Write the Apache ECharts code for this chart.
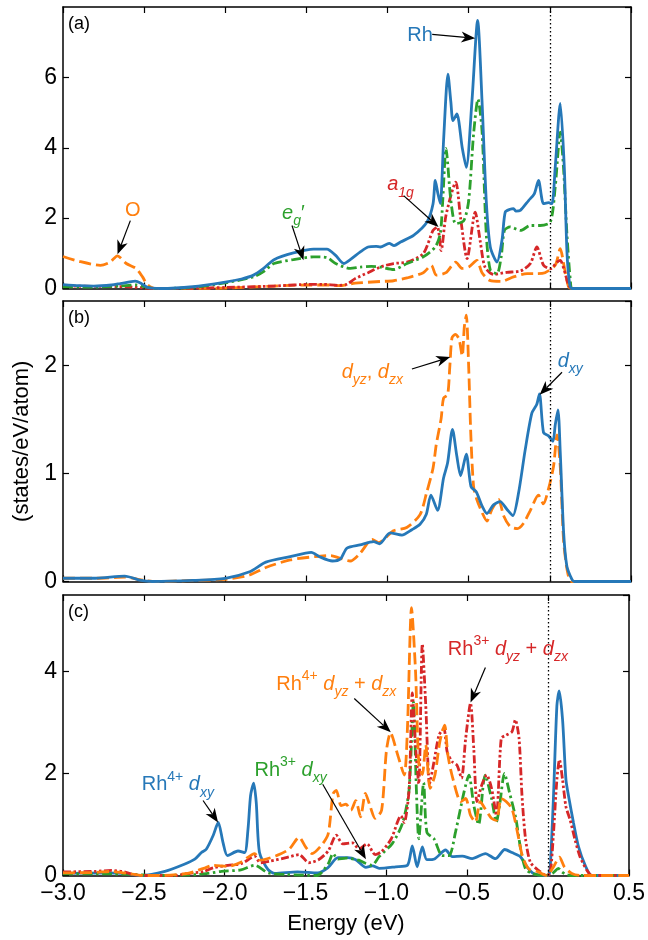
<!DOCTYPE html>
<html>
<head>
<meta charset="utf-8">
<script src="https://cdn.jsdelivr.net/npm/echarts@6.0.0/dist/echarts.min.js"></script>
<style>
html, body { margin: 0; padding: 0; background: #fff; }
#chart { width: 648px; height: 940px; }
</style>
</head>
<body>
<div id="chart"></div>
<script>
// energy ranges / ticks
var eMin = -3.0, eMax = 0.5, eStep = 0.5;
var yMaxA = 8, yStepA = 2;
var yMaxB = 2.6, yStepB = 1;
var yMaxC = 5.5, yStepC = 2;

// (a) total Rh, eg', a1g, O  -- [energy, DOS]
var aRh = [[-3.0,0.11],[-2.9,0.08],[-2.81,0.07],[-2.7,0.1],[-2.647,0.14],[-2.555,0.21],[-2.52,0.15],[-2.48,0.03],[-2.4,0.0],[-2.2,0.05],[-2.0,0.18],[-1.9,0.27],[-1.826,0.38],[-1.764,0.57],[-1.7,0.82],[-1.58,1.01],[-1.456,1.12],[-1.374,1.12],[-1.32,0.94],[-1.27,0.71],[-1.23,0.82],[-1.168,1.04],[-1.12,1.18],[-1.07,1.2],[-1.045,1.18],[-0.99,1.28],[-0.96,1.22],[-0.92,1.32],[-0.84,1.51],[-0.757,1.89],[-0.72,2.4],[-0.706,3.07],[-0.69,2.7],[-0.675,2.41],[-0.655,4.2],[-0.628,6.09],[-0.61,5.3],[-0.597,4.77],[-0.573,4.96],[-0.54,4.0],[-0.515,3.44],[-0.48,5.33],[-0.445,7.62],[-0.418,5.33],[-0.392,2.5],[-0.367,1.18],[-0.326,0.75],[-0.295,1.37],[-0.275,2.17],[-0.245,2.25],[-0.224,2.27],[-0.21,2.2],[-0.182,2.22],[-0.131,2.5],[-0.096,2.69],[-0.07,3.07],[-0.039,2.41],[-0.008,2.44],[0.013,2.41],[0.033,3.44],[0.064,5.26],[0.089,3.44],[0.105,1.08],[0.121,0.15],[0.136,0.0],[0.5,0.0]];
var aEg = [[-3.0,0.05],[-2.8,0.04],[-2.65,0.07],[-2.55,0.1],[-2.5,0.05],[-2.42,0.0],[-2.2,0.03],[-1.99,0.17],[-1.826,0.33],[-1.764,0.48],[-1.7,0.71],[-1.58,0.82],[-1.456,0.9],[-1.374,0.88],[-1.32,0.71],[-1.23,0.57],[-1.168,0.61],[-1.1,0.63],[-1.045,0.61],[-0.963,0.54],[-0.88,0.71],[-0.78,0.9],[-0.706,1.18],[-0.675,1.56],[-0.66,2.5],[-0.64,3.98],[-0.61,2.5],[-0.58,1.84],[-0.53,1.93],[-0.5,2.5],[-0.47,4.39],[-0.443,5.38],[-0.418,4.48],[-0.392,1.56],[-0.367,0.52],[-0.326,0.42],[-0.3,0.9],[-0.28,1.65],[-0.245,1.75],[-0.18,1.65],[-0.12,1.79],[-0.06,1.79],[0.003,1.89],[0.033,2.88],[0.064,4.44],[0.084,3.44],[0.105,1.56],[0.126,0.25],[0.14,0.0],[0.5,0.0]];
var aA1g = [[-3.0,0.07],[-2.8,0.06],[-2.6,0.05],[-2.45,0.0],[-2.2,0.01],[-1.99,0.03],[-1.7,0.07],[-1.54,0.11],[-1.4,0.12],[-1.3,0.09],[-1.25,0.12],[-1.2,0.28],[-1.12,0.45],[-1.045,0.61],[-0.963,0.71],[-0.88,0.75],[-0.78,0.99],[-0.72,1.65],[-0.693,1.75],[-0.67,1.08],[-0.64,2.08],[-0.58,3.02],[-0.55,2.0],[-0.51,0.85],[-0.46,2.17],[-0.43,1.37],[-0.4,0.61],[-0.347,0.4],[-0.265,0.46],[-0.18,0.5],[-0.12,0.71],[-0.08,1.18],[-0.039,0.66],[0.003,0.56],[0.045,0.75],[0.064,0.8],[0.09,0.5],[0.115,0.1],[0.136,0.0],[0.5,0.0]];
var aO = [[-3.0,0.91],[-2.9,0.77],[-2.77,0.66],[-2.71,0.75],[-2.665,0.93],[-2.61,0.71],[-2.55,0.57],[-2.51,0.33],[-2.48,0.11],[-2.43,0.0],[-2.0,0.01],[-1.85,0.04],[-1.7,0.07],[-1.5,0.1],[-1.35,0.1],[-1.3,0.08],[-1.2,0.15],[-1.045,0.2],[-0.963,0.22],[-0.88,0.3],[-0.78,0.45],[-0.73,0.66],[-0.7,0.38],[-0.64,0.45],[-0.58,0.75],[-0.54,0.57],[-0.5,0.61],[-0.45,0.8],[-0.418,0.45],[-0.37,0.23],[-0.3,0.2],[-0.224,0.33],[-0.14,0.42],[-0.08,0.42],[-0.03,0.45],[0.033,0.66],[0.064,1.13],[0.089,0.6],[0.115,0.05],[0.136,0.0],[0.5,0.0]];

// (b) dxy, dyz/dzx
var bXy = [[-3.0,0.03],[-2.8,0.03],[-2.62,0.05],[-2.52,0.01],[-2.45,0.0],[-2.2,0.01],[-2.0,0.03],[-1.85,0.09],[-1.75,0.18],[-1.6,0.23],[-1.47,0.27],[-1.42,0.23],[-1.34,0.19],[-1.29,0.21],[-1.25,0.31],[-1.17,0.34],[-1.086,0.37],[-1.05,0.35],[-0.984,0.45],[-0.912,0.43],[-0.85,0.48],[-0.8,0.53],[-0.762,0.62],[-0.733,0.8],[-0.692,0.66],[-0.655,0.96],[-0.63,1.1],[-0.6,1.41],[-0.573,1.16],[-0.55,0.98],[-0.515,1.18],[-0.486,0.88],[-0.453,0.83],[-0.418,0.7],[-0.388,0.63],[-0.347,0.71],[-0.306,0.74],[-0.265,0.67],[-0.228,0.61],[-0.193,0.82],[-0.152,1.22],[-0.111,1.56],[-0.081,1.64],[-0.064,1.74],[-0.039,1.38],[-0.008,1.35],[0.019,1.3],[0.033,1.45],[0.05,1.59],[0.064,1.2],[0.085,0.45],[0.105,0.14],[0.136,0.02],[0.15,0.0],[0.5,0.0]];
var bYz = [[-3.0,0.03],[-2.8,0.03],[-2.62,0.04],[-2.5,0.01],[-2.45,0.0],[-2.2,0.01],[-2.0,0.02],[-1.85,0.06],[-1.75,0.13],[-1.6,0.2],[-1.45,0.23],[-1.35,0.24],[-1.3,0.22],[-1.23,0.19],[-1.17,0.26],[-1.095,0.39],[-1.055,0.36],[-0.964,0.47],[-0.882,0.5],[-0.8,0.62],[-0.76,0.82],[-0.72,1.05],[-0.7,1.27],[-0.67,1.51],[-0.655,1.7],[-0.63,1.73],[-0.617,1.98],[-0.603,2.26],[-0.583,2.29],[-0.56,2.25],[-0.54,2.09],[-0.527,2.36],[-0.515,2.47],[-0.5,1.98],[-0.487,1.36],[-0.47,0.88],[-0.45,0.76],[-0.418,0.64],[-0.388,0.56],[-0.357,0.67],[-0.316,0.76],[-0.285,0.61],[-0.245,0.51],[-0.2,0.49],[-0.162,0.54],[-0.12,0.66],[-0.07,0.8],[-0.04,0.72],[-0.008,0.86],[0.023,1.07],[0.044,1.36],[0.064,1.07],[0.085,0.37],[0.11,0.08],[0.136,0.0],[0.5,0.0]];

// (c) Rh4+ dxy, Rh3+ dxy, Rh4+ dyz+dzx, Rh3+ dyz+dzx
var c4Xy = [[-3.0,0.04],[-2.73,0.05],[-2.6,0.03],[-2.51,0.0],[-2.37,0.08],[-2.25,0.22],[-2.185,0.32],[-2.144,0.45],[-2.113,0.52],[-2.072,0.78],[-2.04,1.04],[-2.01,0.64],[-1.983,0.39],[-1.918,0.48],[-1.877,0.45],[-1.856,0.91],[-1.84,1.57],[-1.821,1.81],[-1.805,1.43],[-1.785,0.45],[-1.733,0.12],[-1.69,0.04],[-1.55,0.07],[-1.425,0.05],[-1.363,0.15],[-1.3,0.35],[-1.24,0.35],[-1.19,0.31],[-1.127,0.16],[-1.086,0.19],[-1.045,0.14],[-0.943,0.17],[-0.87,0.2],[-0.84,0.58],[-0.81,0.17],[-0.778,0.56],[-0.75,0.31],[-0.7,0.33],[-0.634,0.5],[-0.593,0.37],[-0.531,0.38],[-0.47,0.33],[-0.388,0.43],[-0.326,0.33],[-0.268,0.51],[-0.224,0.45],[-0.172,0.37],[-0.131,0.17],[-0.09,0.04],[-0.016,0.0],[0.003,0.0],[0.013,0.17],[0.033,1.55],[0.054,3.33],[0.068,3.62],[0.089,3.06],[0.11,1.88],[0.13,1.49],[0.157,1.03],[0.188,0.56],[0.229,0.2],[0.27,0.0],[0.5,0.0]];
var c3Xy = [[-3.0,0.03],[-2.7,0.03],[-2.55,0.02],[-2.45,0.0],[-2.16,0.02],[-2.02,0.08],[-1.9,0.11],[-1.815,0.2],[-1.73,0.05],[-1.62,0.02],[-1.43,0.0],[-1.36,0.23],[-1.33,0.43],[-1.3,0.32],[-1.25,0.34],[-1.17,0.3],[-1.13,0.24],[-1.09,0.2],[-1.045,0.37],[-0.963,0.63],[-0.9,1.03],[-0.86,1.68],[-0.833,3.4],[-0.815,1.7],[-0.8,0.72],[-0.77,1.82],[-0.75,0.85],[-0.706,0.72],[-0.655,0.39],[-0.613,0.39],[-0.573,0.85],[-0.52,1.64],[-0.49,1.97],[-0.46,1.38],[-0.43,1.0],[-0.39,1.97],[-0.35,1.51],[-0.32,1.05],[-0.3,1.38],[-0.27,2.0],[-0.24,1.64],[-0.2,1.12],[-0.17,0.52],[-0.14,0.13],[-0.1,0.04],[-0.02,0.0],[0.03,0.05],[0.063,0.14],[0.085,0.07],[0.11,0.02],[0.14,0.0],[0.5,0.0]];
var c4Yz = [[-3.0,0.05],[-2.8,0.06],[-2.7,0.08],[-2.6,0.04],[-2.5,0.0],[-2.4,0.0],[-2.23,0.04],[-2.13,0.14],[-2.07,0.2],[-1.98,0.18],[-1.9,0.26],[-1.815,0.43],[-1.78,0.3],[-1.68,0.39],[-1.6,0.52],[-1.54,0.75],[-1.5,0.56],[-1.46,0.43],[-1.4,0.6],[-1.36,0.82],[-1.33,1.6],[-1.31,1.67],[-1.28,1.37],[-1.25,1.4],[-1.22,1.28],[-1.19,1.47],[-1.16,1.15],[-1.13,1.61],[-1.1,1.35],[-1.07,1.12],[-1.03,1.28],[-1.0,2.45],[-0.975,2.8],[-0.93,2.36],[-0.89,1.97],[-0.87,2.9],[-0.845,5.25],[-0.82,4.0],[-0.8,2.2],[-0.778,1.98],[-0.757,2.56],[-0.73,1.71],[-0.7,1.97],[-0.67,2.62],[-0.64,2.95],[-0.62,2.36],[-0.59,1.91],[-0.54,1.45],[-0.51,1.51],[-0.48,1.18],[-0.45,1.05],[-0.42,1.45],[-0.39,1.31],[-0.35,1.12],[-0.32,1.08],[-0.29,1.51],[-0.26,1.45],[-0.224,1.31],[-0.19,0.85],[-0.16,0.39],[-0.12,0.13],[-0.06,0.07],[-0.01,0.0],[0.033,0.17],[0.07,0.36],[0.1,0.17],[0.146,0.04],[0.2,0.0],[0.5,0.0]];
var c3Yz = [[-3.0,0.07],[-2.8,0.08],[-2.7,0.1],[-2.62,0.07],[-2.57,0.02],[-2.5,0.0],[-2.3,0.0],[-2.25,0.03],[-2.13,0.08],[-2.07,0.15],[-1.98,0.2],[-1.9,0.23],[-1.835,0.35],[-1.815,0.38],[-1.78,0.25],[-1.72,0.28],[-1.62,0.35],[-1.54,0.41],[-1.48,0.25],[-1.42,0.31],[-1.36,0.48],[-1.31,0.79],[-1.27,0.62],[-1.21,0.64],[-1.17,0.52],[-1.12,0.62],[-1.07,0.41],[-1.03,0.47],[-0.97,0.72],[-0.91,1.17],[-0.89,1.04],[-0.86,1.68],[-0.84,3.58],[-0.82,2.53],[-0.8,1.8],[-0.778,4.54],[-0.757,3.35],[-0.733,1.8],[-0.706,2.23],[-0.675,2.75],[-0.645,2.88],[-0.624,2.42],[-0.593,2.23],[-0.563,2.16],[-0.536,1.91],[-0.51,2.69],[-0.48,3.38],[-0.46,2.49],[-0.44,1.45],[-0.41,1.78],[-0.38,1.97],[-0.35,1.71],[-0.32,1.18],[-0.29,2.69],[-0.26,2.75],[-0.224,2.82],[-0.203,3.05],[-0.18,2.69],[-0.162,1.58],[-0.14,0.72],[-0.11,0.26],[-0.06,0.1],[-0.008,0.0],[0.013,0.05],[0.033,0.83],[0.054,1.88],[0.07,2.27],[0.089,1.88],[0.11,1.35],[0.136,1.09],[0.167,0.69],[0.198,0.36],[0.24,0.1],[0.27,0.0],[0.5,0.0]];

var blue = '#2678b8', orange = '#ff7f0e', green = '#2ca02c', red = '#d62728';
var fam = 'Liberation Sans';

var chart = echarts.init(document.getElementById('chart'));

var grids = [
	{ left: 63, right: 17, top: 7, height: 281.5 },
	{ left: 63, right: 17, top: 301, height: 280.5 },
	{ left: 63, right: 17, top: 595, height: 280.5 }
];

var frame = { onZero: false, lineStyle: { color: '#000', width: 1.5 } };
var tick = { inside: true, length: 6, lineStyle: { color: '#000', width: 1.2 } };

function fmtE(v) {
	return (v < 0 ? '\u2212' : '') + Math.abs(v).toFixed(1);
}

var xAxes = [], yAxes = [];
var ymaxs = [yMaxA, yMaxB, yMaxC], ysteps = [yStepA, yStepB, yStepC];
for (var g = 0; g < 3; g++) {
	xAxes.push({
		type: 'value', gridIndex: g, min: eMin, max: eMax, interval: eStep, position: 'bottom',
		axisLine: frame, axisTick: tick, splitLine: { show: false },
		axisLabel: { show: g === 2, formatter: fmtE, fontSize: 23, color: '#000', fontFamily: fam, margin: 7 },
		name: g === 2 ? 'Energy (eV)' : '', nameLocation: 'middle', nameGap: 37,
		nameTextStyle: { fontSize: 22, color: '#000', fontFamily: fam }
	});
	xAxes.push({
		type: 'value', gridIndex: g, min: eMin, max: eMax, interval: eStep, position: 'top',
		axisLine: frame, axisTick: tick, splitLine: { show: false }, axisLabel: { show: false }
	});
	yAxes.push({
		type: 'value', gridIndex: g, min: 0, max: ymaxs[g], interval: ysteps[g], position: 'left',
		axisLine: frame, axisTick: tick, splitLine: { show: false },
		axisLabel: { showMaxLabel: false, fontSize: 23, color: '#000', fontFamily: fam, margin: 6 },
		name: g === 1 ? '(states/eV/atom)' : '', nameLocation: 'middle', nameGap: 28,
		nameTextStyle: { fontSize: 22, color: '#000', fontFamily: fam }
	});
	yAxes.push({
		type: 'value', gridIndex: g, min: 0, max: ymaxs[g], interval: ysteps[g], position: 'right',
		axisLine: frame, axisTick: tick, splitLine: { show: false }, axisLabel: { show: false }
	});
}

function line(data, color, dash, g, z, fermi) {
	var s = {
		type: 'line', data: data, xAxisIndex: 2 * g, yAxisIndex: 2 * g,
		showSymbol: false, smooth: 0.25, z: z, clip: true,
		lineStyle: { color: color, width: 2.8, type: dash, cap: 'butt' }
	};
	if (fermi) {
		s.markLine = {
			silent: true, symbol: 'none', label: { show: false }, animation: false,
			lineStyle: { color: '#000', width: 1.3, type: [1.5, 2.5] },
			data: [{ xAxis: 0 }]
		};
	}
	return s;
}

var dashO = [12, 5], dashG = [10, 3.5, 2.5, 3.5], dashR = [8, 2.5, 2.5, 2.5, 2.5, 2.5];

var series = [
	line(aO, orange, dashO, 0, 2, true),
	line(aA1g, red, dashR, 0, 3),
	line(aEg, green, dashG, 0, 4),
	line(aRh, blue, 'solid', 0, 5),
	line(bYz, orange, dashO, 1, 3, true),
	line(bXy, blue, 'solid', 1, 4),
	line(c4Xy, blue, 'solid', 2, 2, true),
	line(c3Xy, green, dashG, 2, 3),
	line(c3Yz, red, dashR, 2, 4),
	line(c4Yz, orange, dashO, 2, 5)
];

chart.setOption({
	animation: false,
	backgroundColor: '#fff',
	textStyle: { fontFamily: fam },
	grid: grids,
	xAxis: xAxes,
	yAxis: yAxes,
	series: series
});

// annotations: label centre, arrow start, arrow tip (data coordinates)
function rich(color) {
	return {
		n: { fontSize: 20, fontFamily: fam, fill: color, lineHeight: 30, verticalAlign: 'middle' },
		i: { fontSize: 20, fontFamily: fam, fontStyle: 'italic', fill: color, lineHeight: 30, verticalAlign: 'middle' },
		sup: { fontSize: 14, fontFamily: fam, fill: color, lineHeight: 14, verticalAlign: 'top' },
		sub: { fontSize: 14, fontFamily: fam, fontStyle: 'italic', fill: color, lineHeight: 13, verticalAlign: 'bottom' }
	};
}
var notes = [
	{ g: 0, t: '{n|Rh}', c: blue, at: [-0.80, 7.2], from: [-0.725, 7.22], to: [-0.46, 7.11] },
	{ g: 0, t: '{n|O}', c: orange, at: [-2.57, 2.22], from: [-2.585, 1.93], to: [-2.664, 0.97] },
	{ g: 0, t: '{i|e}{sub|g}{n|\u2032}', c: green, at: [-1.58, 2.13], from: [-1.589, 1.79], to: [-1.518, 0.8] },
	{ g: 0, t: '{i|a}{sub|1g}', c: red, at: [-0.92, 2.95], from: [-0.901, 2.64], to: [-0.686, 1.75] },
	{ g: 1, t: '{i|d}{sub|yz}{n|, }{i|d}{sub|zx}', c: orange, at: [-1.094, 1.94], from: [-0.85, 1.97], to: [-0.614, 2.08] },
	{ g: 1, t: '{i|d}{sub|xy}', c: blue, at: [0.126, 2.04], from: [0.075, 1.94], to: [-0.063, 1.73] },
	{ g: 2, t: '{n|Rh}{sup|4+}{n| }{i|d}{sub|xy}', c: blue, at: [-2.29, 1.78], from: [-2.134, 1.47], to: [-2.041, 1.04] },
	{ g: 2, t: '{n|Rh}{sup|3+}{n| }{i|d}{sub|xy}', c: green, at: [-1.593, 2.06], from: [-1.394, 1.79], to: [-1.127, 0.32] },
	{ g: 2, t: '{n|Rh}{sup|4+}{n| }{i|d}{sub|yz}{n| + }{i|d}{sub|zx}', c: orange, at: [-1.31, 3.75], from: [-1.199, 3.47], to: [-0.973, 2.81] },
	{ g: 2, t: '{n|Rh}{sup|3+}{n| }{i|d}{sub|yz}{n| + }{i|d}{sub|zx}', c: red, at: [-0.249, 4.43], from: [-0.388, 4.08], to: [-0.48, 3.39] }
];
var panelTags = ['(a)', '(b)', '(c)'];

function px(g, p) {
	return chart.convertToPixel({ xAxisIndex: 2 * g, yAxisIndex: 2 * g }, p);
}

var gfx = [];
notes.forEach(function (n) {
	var a = px(n.g, n.at), f = px(n.g, n.from), t = px(n.g, n.to);
	gfx.push({
		type: 'text', z: 100,
		style: { x: a[0], y: a[1], text: n.t, rich: rich(n.c), fill: n.c, align: 'center', verticalAlign: 'middle' }
	});
	var dx = t[0] - f[0], dy = t[1] - f[1];
	var len = Math.sqrt(dx * dx + dy * dy), ux = dx / len, uy = dy / len;
	var hl = 14, hw = 5.5, notch = 4;
	var bx = t[0] - ux * hl, by = t[1] - uy * hl;
	gfx.push({
		type: 'line', z: 100,
		shape: { x1: f[0], y1: f[1], x2: t[0] - ux * (hl - notch), y2: t[1] - uy * (hl - notch) },
		style: { stroke: '#000', lineWidth: 1.2 }
	});
	gfx.push({
		type: 'polygon', z: 100,
		shape: { points: [
			[t[0], t[1]],
			[bx - uy * hw, by + ux * hw],
			[t[0] - ux * (hl - notch), t[1] - uy * (hl - notch)],
			[bx + uy * hw, by - ux * hw]
		] },
		style: { fill: '#000' }
	});
});
panelTags.forEach(function (tag, g) {
	gfx.push({
		type: 'text', z: 100,
		style: { x: grids[g].left + 5, y: grids[g].top + 17, text: tag, fontSize: 18, fontFamily: fam, fill: '#000', align: 'left', verticalAlign: 'middle' }
	});
});

chart.setOption({ graphic: { elements: gfx } });
</script>
</body>
</html>
